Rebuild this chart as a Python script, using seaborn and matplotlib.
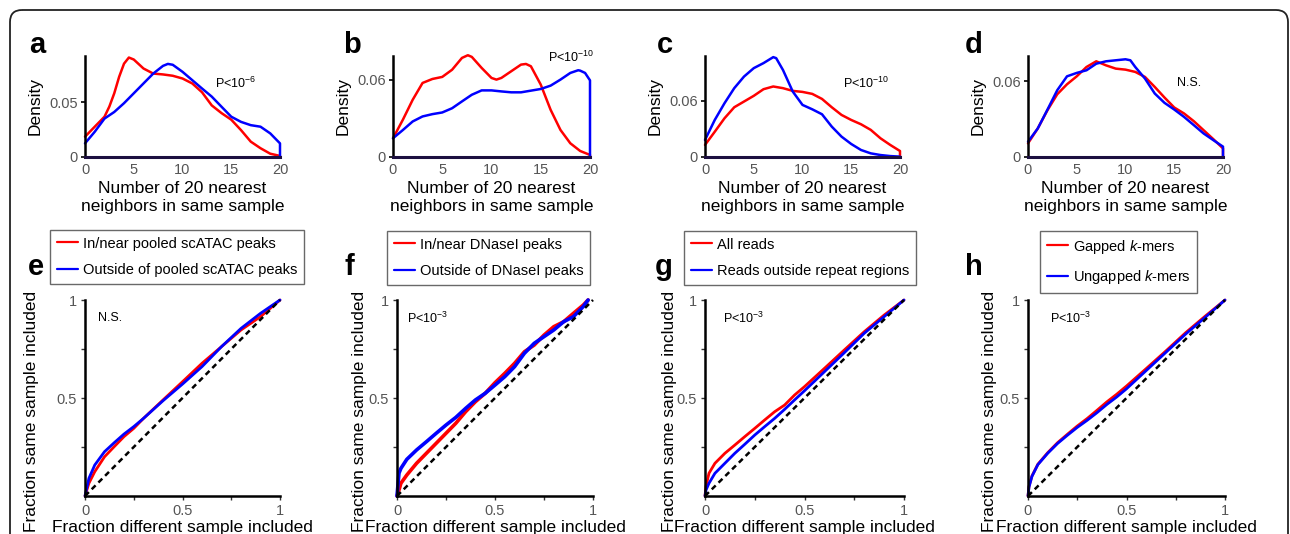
import matplotlib
matplotlib.use("Agg")
import matplotlib.pyplot as plt
import numpy as np
import pandas as pd
import seaborn as sns
from matplotlib.patches import FancyBboxPatch

sns.set_theme(style="white")
plt.rcParams['font.family'] = ['Liberation Sans', 'DejaVu Sans']
plt.rcParams['mathtext.fontset'] = 'custom'
plt.rcParams['mathtext.rm'] = 'Liberation Sans'
plt.rcParams['mathtext.it'] = 'Liberation Sans:italic'

RED = '#ff0000'
BLUE = '#0000ff'

# ---------------- Data: top density panels (a-d) ----------------
a_red_x = [0, 1, 2, 2.5, 3, 3.5, 4, 4.5, 5, 6, 7, 8, 9, 10, 11, 12, 13, 14, 15, 16, 17, 18, 19, 20, 20]
a_red_y = [0.0185, 0.0276, 0.0367, 0.046, 0.058, 0.073, 0.085, 0.0906, 0.0888, 0.0806, 0.076, 0.0752,
           0.074, 0.0715, 0.067, 0.059, 0.047, 0.040, 0.034, 0.0245, 0.014, 0.008, 0.003, 0.001, 0]
a_blue_x = [0, 1, 2, 3, 4, 5, 6, 7, 8, 8.5, 9, 10, 11, 12, 13, 14, 15, 16, 17, 18, 19, 20, 20]
a_blue_y = [0.0124, 0.023, 0.035, 0.041, 0.049, 0.058, 0.067, 0.076, 0.083, 0.0848, 0.084, 0.0776,
            0.070, 0.0624, 0.055, 0.0458, 0.0367, 0.032, 0.029, 0.0276, 0.0215, 0.0124, 0]

b_red_x = [0, 1, 2, 3, 4, 5, 6, 7, 7.6, 8, 9, 10, 10.5, 11, 12, 13, 13.5, 14, 15, 16, 17, 18, 19, 20, 20]
b_red_y = [0.0146, 0.029, 0.0446, 0.0577, 0.0608, 0.0624, 0.068, 0.0772, 0.0793, 0.078, 0.0694, 0.0616,
           0.0603, 0.0616, 0.0668, 0.072, 0.0725, 0.0707, 0.0564, 0.0368, 0.0211, 0.0107, 0.0047, 0.0016, 0]
b_blue_x = [0, 1, 2, 3, 4, 5, 6, 7, 8, 9, 10, 11, 12, 13, 14, 15, 16, 17, 18, 18.8, 19, 19.5, 20, 20]
b_blue_y = [0.0146, 0.021, 0.0277, 0.0316, 0.0334, 0.0347, 0.038, 0.0433, 0.0485, 0.0519, 0.0519, 0.0511,
            0.0504, 0.0504, 0.0517, 0.053, 0.0556, 0.0603, 0.0655, 0.0676, 0.0673, 0.0655, 0.0597, 0]

c_red_x = [0, 1, 2, 3, 4, 5, 6, 7, 8, 9, 10, 11, 12, 13, 14, 15, 16, 17, 18, 19, 20, 20]
c_red_y = [0.0129, 0.027, 0.0414, 0.0532, 0.0593, 0.0654, 0.0725, 0.0754, 0.0736, 0.0707, 0.0696, 0.0675,
           0.0621, 0.0532, 0.045, 0.0396, 0.035, 0.029, 0.02, 0.0129, 0.0064, 0]
c_blue_x = [0, 1, 2, 3, 4, 5, 6, 7, 7.3, 8, 9, 10, 11, 12, 13, 14, 15, 16, 17, 18, 19, 20, 20]
c_blue_y = [0.0182, 0.0396, 0.0575, 0.0736, 0.086, 0.095, 0.1004, 0.1068, 0.1057, 0.093, 0.070, 0.0557,
            0.051, 0.0457, 0.0325, 0.0218, 0.0139, 0.0075, 0.0039, 0.0021, 0.001, 0.0004, 0]

d_red_x = [0, 1, 2, 3, 4, 5, 6, 7, 8, 9, 10, 11, 12, 13, 14, 15, 16, 17, 18, 19, 20, 20]
d_red_y = [0.0108, 0.0226, 0.0371, 0.0497, 0.0576, 0.0639, 0.0713, 0.0758, 0.0726, 0.070, 0.0692, 0.0674,
           0.0634, 0.0555, 0.0471, 0.0392, 0.0345, 0.0284, 0.0213, 0.0142, 0.0068, 0]
d_blue_x = [0, 1, 2, 3, 4, 5, 6, 7, 8, 9, 10, 10.5, 11, 12, 13, 14, 15, 16, 17, 18, 19, 20, 20]
d_blue_y = [0.0121, 0.0226, 0.0376, 0.0529, 0.0639, 0.0666, 0.0687, 0.0739, 0.0758, 0.0766, 0.0774, 0.0766,
            0.0713, 0.0621, 0.0503, 0.0429, 0.0376, 0.0318, 0.0253, 0.0187, 0.0134, 0.0082, 0]

top_ylims = [0.092, 0.0787, 0.108, 0.080]
top_yticks = [[0, 0.05], [0, 0.06], [0, 0.06], [0, 0.06]]
top_yticklabels = [['0', '0.05'], ['0', '0.06'], ['0', '0.06'], ['0', '0.06']]
top_xticks = [0, 5, 10, 15, 20]

# ---------------- Data: bottom cumulative panels (e-h) ----------------
e_x = [0, 0.02, 0.05, 0.1, 0.15, 0.2, 0.25, 0.3, 0.4, 0.5, 0.6, 0.7, 0.8, 0.9, 1.0]
e_red = [0, 0.065, 0.124, 0.2, 0.252, 0.303, 0.345, 0.396, 0.49, 0.583, 0.677, 0.762, 0.847, 0.915, 1.0]
e_blue = [0, 0.09, 0.158, 0.226, 0.272, 0.316, 0.354, 0.396, 0.486, 0.571, 0.66, 0.762, 0.855, 0.932, 1.0]

f_x = [0, 0.01, 0.02, 0.05, 0.1, 0.15, 0.2, 0.25, 0.3, 0.35, 0.4, 0.45, 0.5, 0.55, 0.6, 0.65, 0.7,
       0.75, 0.8, 0.85, 0.9, 0.95, 0.975]
f_red = [0, 0.03, 0.065, 0.107, 0.167, 0.218, 0.269, 0.32, 0.371, 0.43, 0.481, 0.524, 0.578, 0.626,
         0.677, 0.736, 0.77, 0.821, 0.864, 0.889, 0.932, 0.974, 1.0]
f_blue = [0, 0.116, 0.141, 0.187, 0.235, 0.277, 0.32, 0.362, 0.401, 0.447, 0.49, 0.524, 0.566, 0.609,
          0.66, 0.728, 0.779, 0.813, 0.847, 0.889, 0.915, 0.966, 1.0]

g_x = [0, 0.005, 0.02, 0.05, 0.1, 0.15, 0.2, 0.25, 0.3, 0.35, 0.4, 0.45, 0.5, 0.6, 0.7, 0.8, 0.9, 1.0]
g_red = [0, 0.05, 0.116, 0.167, 0.218, 0.26, 0.303, 0.345, 0.388, 0.43, 0.464, 0.515, 0.558, 0.651,
         0.745, 0.838, 0.923, 1.0]
g_blue = [0, 0.03, 0.065, 0.116, 0.167, 0.218, 0.264, 0.311, 0.354, 0.396, 0.442, 0.49, 0.537, 0.634,
          0.731, 0.83, 0.915, 1.0]

h_x = [0, 0.005, 0.02, 0.05, 0.1, 0.15, 0.2, 0.25, 0.3, 0.35, 0.4, 0.45, 0.5, 0.6, 0.7, 0.8, 0.9, 1.0]
h_red = [0, 0.05, 0.102, 0.162, 0.221, 0.272, 0.315, 0.357, 0.395, 0.437, 0.48, 0.519, 0.561, 0.65,
         0.74, 0.833, 0.918, 1.0]
h_blue = [0, 0.045, 0.1, 0.16, 0.218, 0.268, 0.31, 0.35, 0.386, 0.425, 0.467, 0.505, 0.547, 0.64,
          0.733, 0.826, 0.912, 1.0]

diag = [0, 1]

legend_labels = [
    ['In/near pooled scATAC peaks', 'Outside of pooled scATAC peaks'],
    ['In/near DNaseI peaks', 'Outside of DNaseI peaks'],
    ['All reads', 'Reads outside repeat regions'],
    ['Gapped $k$-mers', 'Ungapped $k$-mers'],
]
top_stats = ['P<10$^{-6}$', 'P<10$^{-10}$', 'P<10$^{-10}$', 'N.S.']
bottom_stats = ['N.S.', 'P<10$^{-3}$', 'P<10$^{-3}$', 'P<10$^{-3}$']
panel_letters_top = ['a', 'b', 'c', 'd']
panel_letters_bottom = ['e', 'f', 'g', 'h']
bottom_ticks = [0, 0.25, 0.5, 0.75, 1]
bottom_xticklabels = ['0', '', '0.5', '', '1']
bottom_yticks = [0.25, 0.5, 0.75, 1]
bottom_yticklabels = ['', '0.5', '', '1']

# ---------------- Layout (pixels) ----------------
W, H = 1290, 534
fig = plt.figure(figsize=(W / 100, H / 100), dpi=100)


def px_axes(l, t, r, b):
    return fig.add_axes([l / W, 1 - b / H, (r - l) / W, (b - t) / H])


# border
bg = fig.add_axes([0, 0, 1, 1], zorder=-10)
bg.set_xlim(0, W)
bg.set_ylim(H, 0)
bg.axis('off')
bg.add_patch(FancyBboxPatch((10, 10), 1278, 700, boxstyle='round,pad=0,rounding_size=12',
                            fc='none', ec='#222222', lw=1.3))

top_boxes = [(85, 56, 280, 157), (393, 56, 590, 157), (705, 56, 900, 157), (1028, 56, 1223, 157)]
bot_boxes = [(85, 300, 280, 496), (397, 300, 593, 496), (705, 300, 904, 496), (1028, 300, 1225, 496)]

top_series = [
    (a_red_x, a_red_y, a_blue_x, a_blue_y),
    (b_red_x, b_red_y, b_blue_x, b_blue_y),
    (c_red_x, c_red_y, c_blue_x, c_blue_y),
    (d_red_x, d_red_y, d_blue_x, d_blue_y),
]
bot_series = [(e_x, e_red, e_blue), (f_x, f_red, f_blue), (g_x, g_red, g_blue), (h_x, h_red, h_blue)]

top_stat_pos = [(215, 83), (548, 57), (843, 83), (1177, 83)]
bot_stat_pos = [(98, 318), (407, 318), (723, 318), (1050, 318)]
top_letter_pos = [(29, 53), (343, 53), (657, 53), (965, 53)]
bot_letter_pos = [(28, 275), (345, 275), (655, 275), (965, 275)]
legend_pos = [(50, 230), (387, 231), (684, 231), (1040, 231)]
bot_ylabel_x = [39, 367, 677, 997]

TICKC = '#555555'

for i in range(4):
    ax = px_axes(*top_boxes[i])
    rx, ry, bx, by = top_series[i]
    dr = pd.DataFrame({'x': rx, 'y': ry})
    db = pd.DataFrame({'x': bx, 'y': by})
    sns.lineplot(data=dr, x='x', y='y', ax=ax, color=RED, lw=1.8, sort=False, estimator=None)
    sns.lineplot(data=db, x='x', y='y', ax=ax, color=BLUE, lw=1.8, sort=False, estimator=None)
    for ln in ax.lines:
        ln.set_clip_on(False)
        ln.set_solid_joinstyle('round')
    ax.set_xlim(0, 20)
    ax.set_ylim(0, top_ylims[i])
    ax.set_xticks(top_xticks)
    ax.set_xticklabels([str(t) for t in top_xticks])
    ax.set_yticks(top_yticks[i])
    ax.set_yticklabels(top_yticklabels[i])
    for s in ['top', 'right']:
        ax.spines[s].set_visible(False)
    ax.spines['left'].set_color('black')
    ax.spines['left'].set_linewidth(1.8)
    ax.spines['bottom'].set_color('#1c0f40')
    ax.spines['bottom'].set_linewidth(2.2)
    ax.tick_params(axis='y', length=3, width=1.2, pad=2, labelsize=10.5, labelcolor=TICKC,
                   color='black', direction='out', left=True)
    ax.tick_params(axis='x', length=0, pad=4, labelsize=10.5, labelcolor=TICKC)
    ax.set_xlabel('Number of 20 nearest\nneighbors in same sample', fontsize=12.5, color='black',
                  labelpad=3, linespacing=1.25)
    ax.set_ylabel('Density', fontsize=12.5, color='black', labelpad=5)
    x0, y0 = top_stat_pos[i]
    fig.text(x0 / W, 1 - y0 / H, top_stats[i], ha='left', va='center', fontsize=9, color='black')
    lx, ly = top_letter_pos[i]
    fig.text(lx / W, 1 - ly / H, panel_letters_top[i], ha='left', va='baseline', fontsize=21,
             fontweight='bold', color='black')

for i in range(4):
    ax = px_axes(*bot_boxes[i])
    xs, rs, bs = bot_series[i]
    df = pd.DataFrame({'x': xs, 'red': rs, 'blue': bs})
    lw = 2.0 if i != 1 else 2.6
    sns.lineplot(data=df, x='x', y='red', ax=ax, color=RED, lw=lw,
                 label=legend_labels[i][0], estimator=None)
    sns.lineplot(data=df, x='x', y='blue', ax=ax, color=BLUE, lw=lw,
                 label=legend_labels[i][1], estimator=None)
    sns.lineplot(x=diag, y=diag, ax=ax, color='black', lw=1.8, linestyle=(0, (2.2, 1.6)),
                 estimator=None, legend=False)
    for ln in ax.lines:
        ln.set_clip_on(False)
        ln.set_solid_joinstyle('round')
    ax.set_xlim(0, 1)
    ax.set_ylim(0, 1)
    ax.set_xticks(bottom_ticks)
    ax.set_xticklabels(bottom_xticklabels)
    ax.set_yticks(bottom_yticks)
    ax.set_yticklabels(bottom_yticklabels)
    for s in ['top', 'right']:
        ax.spines[s].set_visible(False)
    for s in ['left', 'bottom']:
        ax.spines[s].set_color('black')
        ax.spines[s].set_linewidth(1.8)
    ax.tick_params(axis='both', length=3, width=1.0, pad=3, labelsize=10.5, labelcolor=TICKC,
                   color='#333333', direction='out', left=True, bottom=True)
    ax.set_xlabel('Fraction different sample included', fontsize=12.5, color='black', labelpad=1)
    ax.set_ylabel('Fraction same sample included', fontsize=12.5, color='black')
    ax.yaxis.set_label_coords((bot_ylabel_x[i] - bot_boxes[i][0]) / (bot_boxes[i][2] - bot_boxes[i][0]),
                              (496 - 411) / 196)
    lgx, lgy = legend_pos[i]
    handles, labels = ax.get_legend_handles_labels()
    leg = ax.legend(handles[:2], labels[:2], loc='upper left', bbox_to_anchor=(lgx / W, 1 - lgy / H),
                    bbox_transform=fig.transFigure, borderaxespad=0, frameon=True, fancybox=False,
                    fontsize=10.5, handlelength=1.45, handletextpad=0.35, labelspacing=0.85,
                    borderpad=0.45)
    leg.get_frame().set_edgecolor('#444444')
    leg.get_frame().set_linewidth(1.0)
    for hl in leg.legend_handles:
        hl.set_linewidth(1.6)
    for t in leg.get_texts():
        t.set_color('black')
    x0, y0 = bot_stat_pos[i]
    fig.text(x0 / W, 1 - y0 / H, bottom_stats[i], ha='left', va='center', fontsize=9, color='black')
    lx, ly = bot_letter_pos[i]
    fig.text(lx / W, 1 - ly / H, panel_letters_bottom[i], ha='left', va='baseline', fontsize=21,
             fontweight='bold', color='black')

fig.savefig('out.png', dpi=100)
